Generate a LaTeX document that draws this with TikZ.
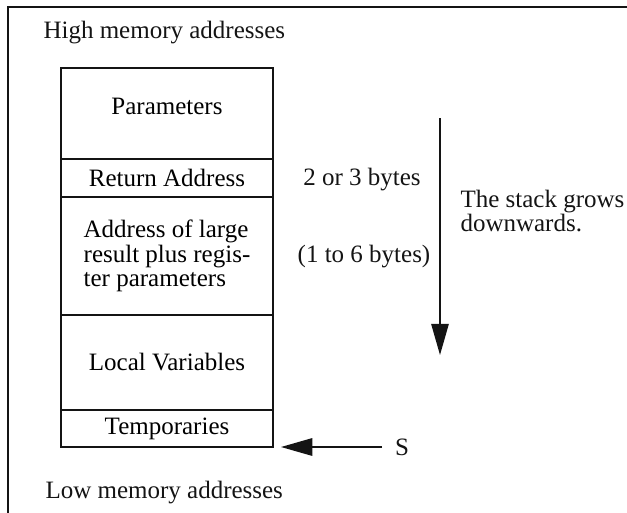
\documentclass[tikz,border=0pt]{standalone}
\usepackage{fontspec}
\setmainfont{Liberation Serif}
\usepackage{tikz}
\usetikzlibrary{arrows.meta, positioning}
\definecolor{inkblack}{RGB}{20,20,20}
\tikzset{
  basebox/.style={rectangle,draw=inkblack,line width=0.6pt,inner sep=2pt,outer sep=0pt,font=\fontsize{10}{9.8}\selectfont},
  slotnode/.style={basebox,minimum width=84.8pt,align=center},
  textnode/.style={rectangle,inner sep=0pt,text=inkblack,font=\fontsize{10}{9.8}\selectfont},
  framepath/.style={draw=inkblack,line width=0.6pt},
  bigarr/.style={-{Triangle[length=12.5pt,width=7pt]},line width=0.6pt,color=inkblack}
}
\begin{document}
\begin{tikzpicture}[x=0.4pt,y=-0.4pt,node distance=0pt]
  \useasboundingbox (0,0) rectangle (627,513);
  \draw[framepath] (8,513) -- (8,7) -- (627,7);

  % the stack frame
  \node[slotnode,anchor=north west,minimum height=36.4pt,text depth=6pt] (par) at (61,68) {Parameters};
  \node[slotnode,below=of par,minimum height=15.2pt] (ret) {Return Address};
  \node[slotnode,below=of ret,minimum height=47.2pt,align=left] (adr)
    {Address of large\\result plus regis-\\ter parameters};
  \node[slotnode,below=of adr,minimum height=38pt] (loc) {Local Variables};
  \node[slotnode,below=of loc,minimum height=14.8pt] (tmp) {Temporaries};

  % labels
  \node[textnode,anchor=west] (hi) at (43,33) {High memory addresses};
  \node[textnode,anchor=west] (lo) at (45,493) {Low memory addresses};
  \node[textnode] (sz2) at (362,180) {2 or 3 bytes};
  \node[textnode] (sz6) at (364,257) {(1 to 6 bytes)};
  \node[textnode,anchor=west,align=left] (grow) at (460,211) {The stack grows\\downwards.};
  \node[textnode] (sp) at (402,447) {S};

  \coordinate (gtop) at (440,118);
  \coordinate (gbot) at (440,355);
  \draw[bigarr] (gtop) -- (gbot);
  \draw[bigarr,shorten <=5pt,shorten >=3.2pt] (sp.west) -- (sp.west -| tmp.east);
\end{tikzpicture}
\end{document}
